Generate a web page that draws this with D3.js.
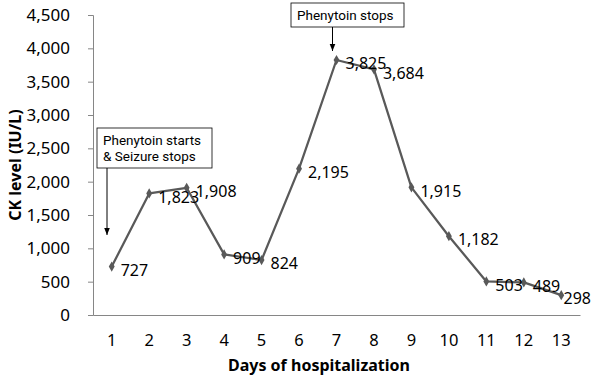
<!DOCTYPE html>
<html>
<head>
<meta charset="utf-8">
<script src="https://cdn.jsdelivr.net/npm/d3@7"></script>
<style>
  body { margin: 0; background: #fff; }
  svg { font-family: "Noto Sans", "DejaVu Sans", sans-serif; }
</style>
</head>
<body>
<div id="chart"></div>
<script>
/* CK level by day of hospitalization */
const days = ["1", "2", "3", "4", "5", "6", "7", "8", "9", "10", "11", "12", "13"];
const ckLevels = [727, 1823, 1908, 909, 824, 2195, 3825, 3684, 1915, 1182, 503, 489, 298];
const yTicks = [0, 500, 1000, 1500, 2000, 2500, 3000, 3500, 4000, 4500];
const notes = [
    { day: "1", lines: ["Phenytoin starts", "& Seizure stops"] },
    { day: "7", lines: ["Phenytoin stops"] }
];

(function draw(){
    const width = 592, height = 377,
          margin = ({ top: 15, right: 12, bottom: 62, left: 93 });

    const svg = d3.select("#chart")
        .append("svg")
        .attr("width", width)
        .attr("height", height);

    const x = d3.scaleBand()
        .domain(days)
        .range([margin.left, width - margin.right]);

    const y = d3.scaleLinear()
        .domain([0, 4500])
        .range([height - margin.bottom, margin.top]);

    const cx = d => x(d) + x.bandwidth() / 2;

    // y axis
    const yAxis = svg.append("g")
        .attr("transform", `translate(${margin.left},0)`)
        .call(d3.axisLeft(y).tickValues(yTicks).tickSize(5).tickPadding(18).tickFormat(d3.format(",")));
    yAxis.selectAll("line, path").attr("stroke", "#868686");
    yAxis.selectAll("text").attr("font-size", 17).attr("fill", "#000").attr("font-family", "Noto Sans");

    // x axis
    const xAxis = svg.append("g")
        .attr("transform", `translate(0,${y(0)})`)
        .call(d3.axisBottom(x).tickSize(0).tickPadding(19));
    xAxis.selectAll("line, path").attr("stroke", "#868686");
    xAxis.selectAll("text").attr("font-size", 16.5).attr("fill", "#000").attr("font-family", "Noto Sans");

    // axis titles
    svg.append("text")
        .attr("x", 319)
        .attr("y", 371)
        .attr("text-anchor", "middle")
        .attr("font-size", 16)
        .attr("font-weight", "bold")
        .text("Days of hospitalization");

    svg.append("text")
        .attr("transform", `translate(21,${(margin.top + y(0)) / 2}) rotate(-90)`)
        .attr("text-anchor", "middle")
        .attr("font-size", 16)
        .attr("font-weight", "bold")
        .text("CK level (IU/L)");

    // line
    const line = d3.line()
        .x((d, i) => cx(days[i]))
        .y(d => y(d));

    svg.append("path")
        .datum(ckLevels)
        .attr("fill", "none")
        .attr("stroke", "#595959")
        .attr("stroke-width", 2.25)
        .attr("stroke-linejoin", "round")
        .attr("d", line);

    svg.selectAll(".pt")
        .data(ckLevels)
        .join("path")
        .attr("class", "pt")
        .attr("d", d3.symbol(d3.symbolDiamond, 30))
        .attr("fill", "#595959")
        .attr("transform", (d, i) => `translate(${cx(days[i])},${y(d)})`);

    // data labels
    const fmt = d3.format(",");
    svg.selectAll(".lbl")
        .data(ckLevels)
        .join("text")
        .attr("class", "lbl")
        .attr("font-size", 16)
        .attr("dy", "0.45em")
        .attr("y", d => y(d) + 2)
        .text(d => fmt(d))
        .attr("x", function(d, i) {
            const w = this.getComputedTextLength();
            return Math.min(cx(days[i]) + 9, width - w - 1);
        });

    // annotations
    const boxes = [
        { note: notes[0], x0: 97, y0: 128, w: 115, arrowTo: 1200 },
        { note: notes[1], x0: 291, y0: 3, w: 113, arrowTo: 3960 }
    ];
    const defs = svg.append("defs");
    defs.append("marker")
        .attr("id", "arr")
        .attr("viewBox", "0 0 10 10")
        .attr("refX", 10).attr("refY", 5)
        .attr("markerWidth", 7).attr("markerHeight", 7)
        .attr("orient", "auto")
        .append("path")
        .attr("d", "M0,1L10,5L0,9Z")
        .attr("fill", "#000");

    boxes.forEach(b => {
        const n = b.note.lines.length;
        const h = 8 + n * 16;
        svg.append("rect")
            .attr("x", b.x0).attr("y", b.y0)
            .attr("width", b.w).attr("height", h)
            .attr("fill", "#fff")
            .attr("stroke", "#000")
            .attr("stroke-width", 0.8);
        b.note.lines.forEach((t, i) => {
            svg.append("text")
                .attr("x", b.x0 + 6)
                .attr("y", b.y0 + 17 + i * 16)
                .attr("font-family", "Roboto")
                .attr("font-size", 13.5)
                .text(t);
        });
        const ax = b.note.day === "1" ? b.x0 + 10 : cx(b.note.day) - 4;
        svg.append("line")
            .attr("x1", ax).attr("x2", ax)
            .attr("y1", b.y0 + h).attr("y2", y(b.arrowTo))
            .attr("stroke", "#000")
            .attr("stroke-width", 1)
            .attr("marker-end", "url(#arr)");
    });
})();
</script>
</body>
</html>
